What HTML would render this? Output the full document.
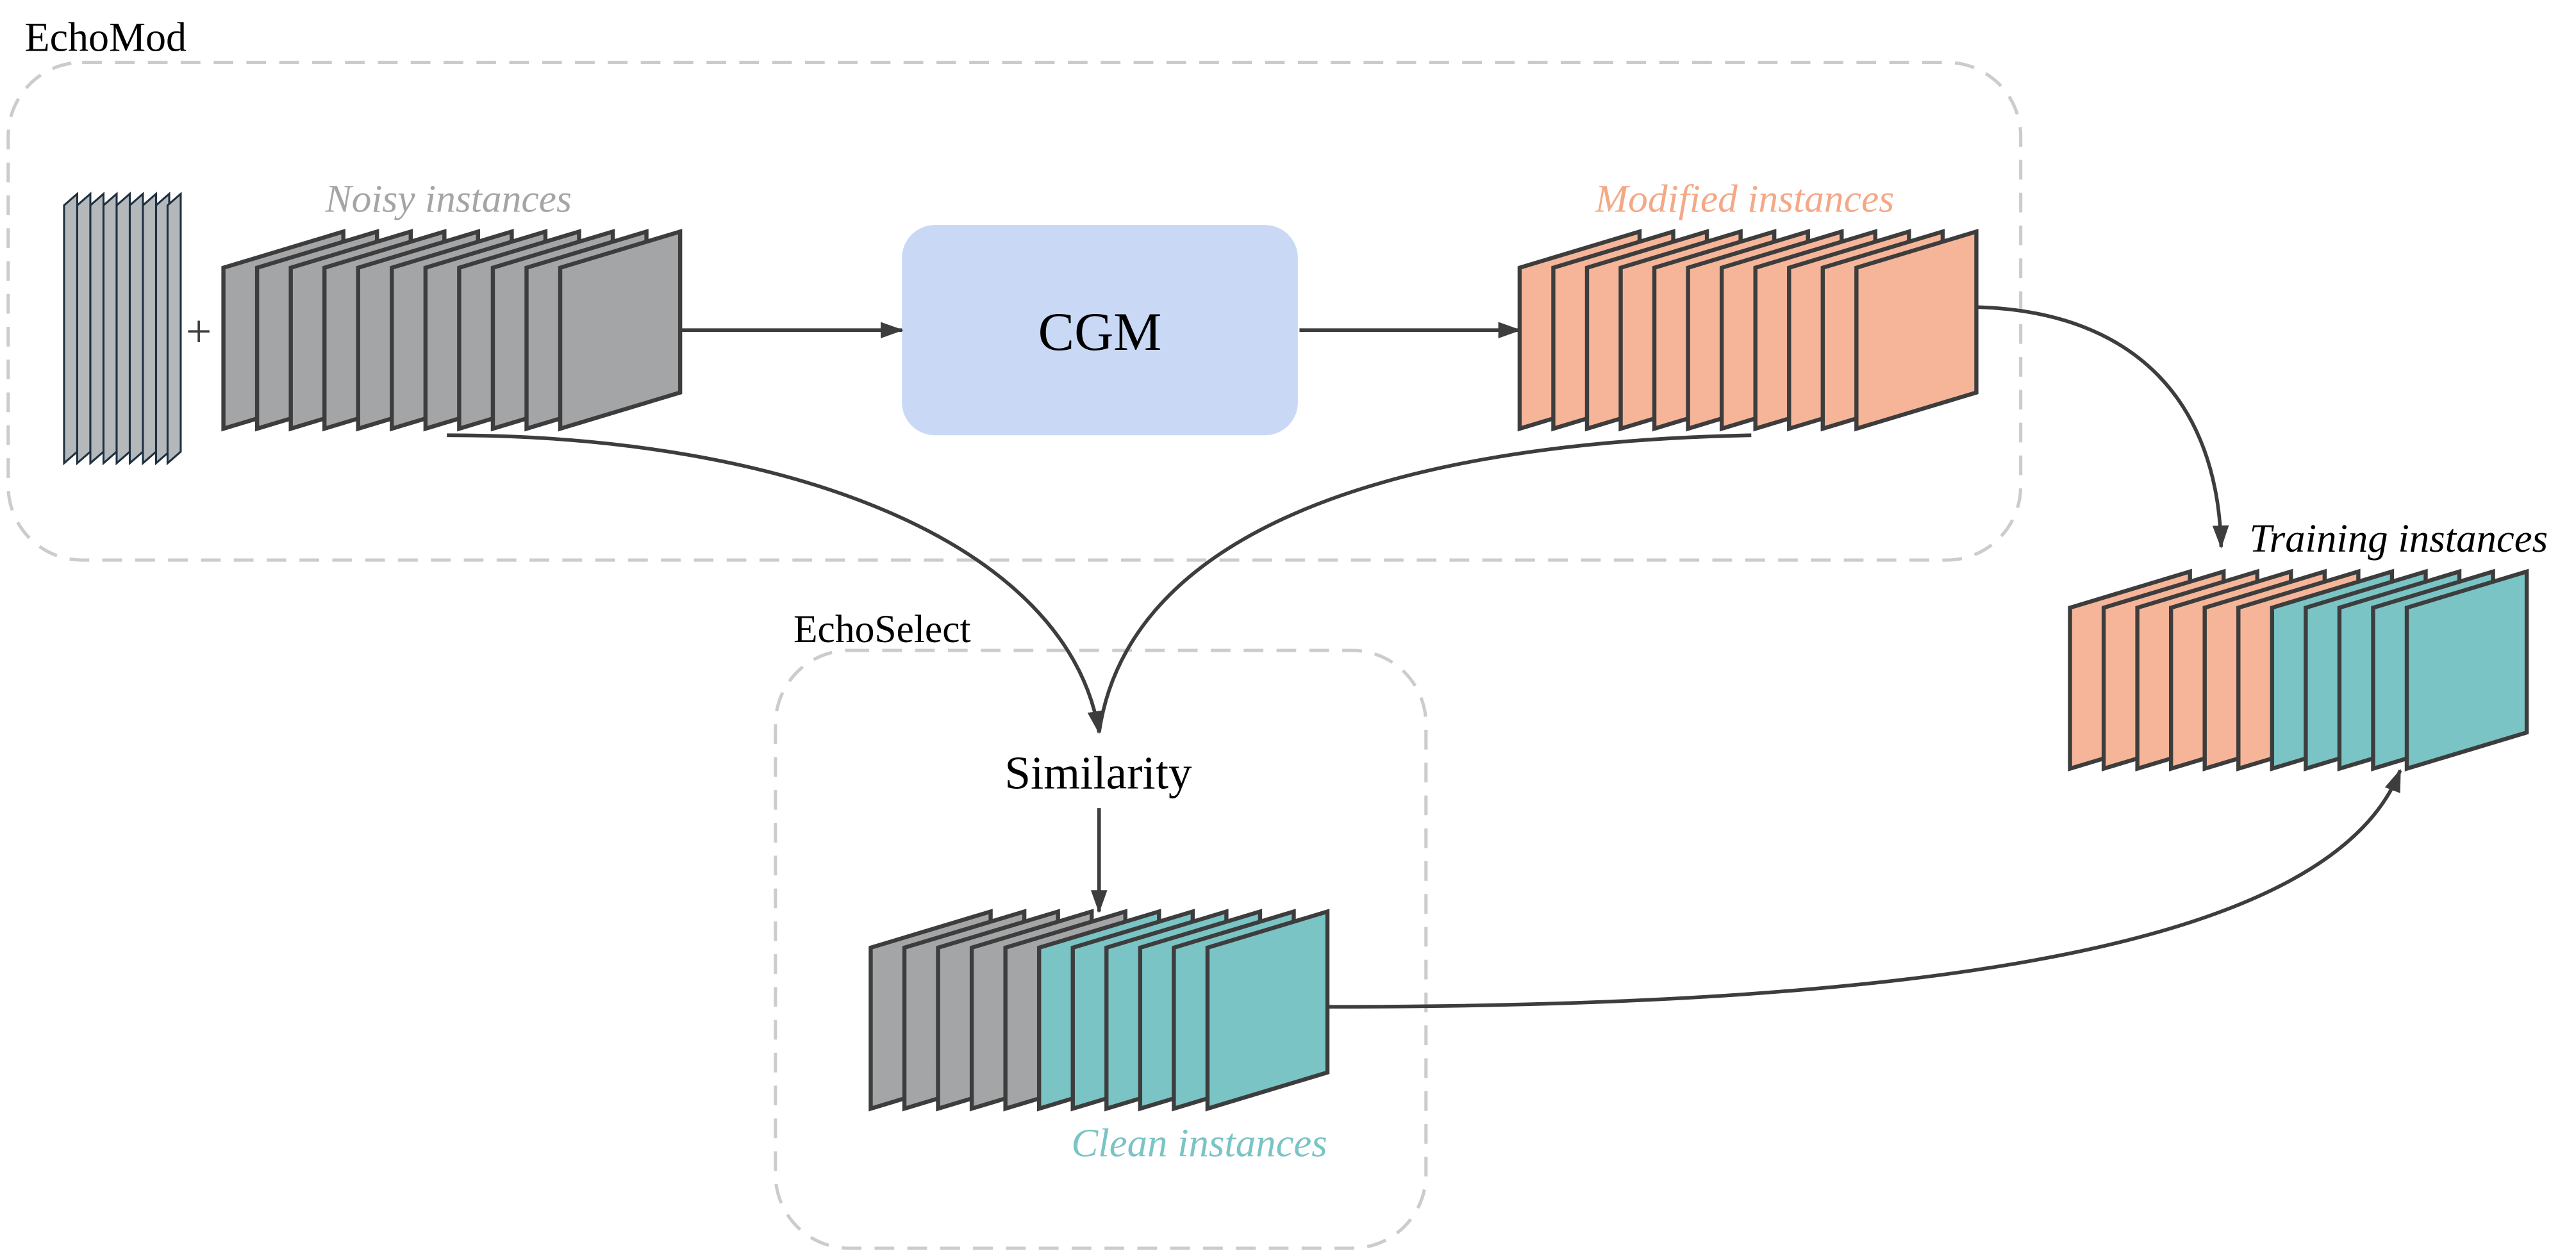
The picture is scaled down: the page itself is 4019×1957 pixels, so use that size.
<!DOCTYPE html>
<html><head><meta charset="utf-8"><style>
html,body{margin:0;padding:0;background:#fff;}
svg{display:block;}
text{font-family:"Liberation Serif",serif;}
</style></head><body>
<svg width="4019" height="1957" viewBox="0 0 1568 763.5" xmlns="http://www.w3.org/2000/svg">
<defs>
<marker id="ah" markerWidth="14" markerHeight="14" refX="13" refY="7" orient="auto" markerUnits="userSpaceOnUse">
<path d="M0,2 L14,7 L0,12 z" fill="#3d3d3d"/>
</marker>
</defs>
<rect x="5" y="38" width="1225" height="303" rx="45" fill="none" stroke="#cccccc" stroke-width="2" stroke-dasharray="12,8"/>
<text x="15" y="31" font-size="25" fill="#000">EchoMod</text>
<rect x="472" y="396" width="396" height="364" rx="45" fill="none" stroke="#cccccc" stroke-width="2" stroke-dasharray="12,8"/>
<text x="483" y="391" font-size="24" fill="#000">EchoSelect</text>

<g fill="#b4b8bb" stroke="#1e3040" stroke-width="1.2">
<polygon points="39,125 47,118 47,275 39,282"/>
<polygon points="47,125 55,118 55,275 47,282"/>
<polygon points="55,125 63,118 63,275 55,282"/>
<polygon points="63,125 71,118 71,275 63,282"/>
<polygon points="71,125 79,118 79,275 71,282"/>
<polygon points="79,125 87,118 87,275 79,282"/>
<polygon points="87,125 95,118 95,275 87,282"/>
<polygon points="95,125 103,118 103,275 95,282"/>
<polygon points="102,125 110,118 110,275 102,282"/>
</g>
<text x="121" y="211" font-size="28" fill="#3d3d3d" text-anchor="middle">+</text>

<g stroke="#3d3d3d" stroke-width="2.5" stroke-linejoin="miter">
<g fill="#a4a5a7">
<polygon points="136,163 209,141 209,239 136,261"/>
<polygon points="156.5,163 229.5,141 229.5,239 156.5,261"/>
<polygon points="177,163 250,141 250,239 177,261"/>
<polygon points="197.5,163 270.5,141 270.5,239 197.5,261"/>
<polygon points="218,163 291,141 291,239 218,261"/>
<polygon points="238.5,163 311.5,141 311.5,239 238.5,261"/>
<polygon points="259,163 332,141 332,239 259,261"/>
<polygon points="279.5,163 352.5,141 352.5,239 279.5,261"/>
<polygon points="300,163 373,141 373,239 300,261"/>
<polygon points="320.5,163 393.5,141 393.5,239 320.5,261"/>
<polygon points="341,163 414,141 414,239 341,261"/>
</g>
<g fill="#f6b598">
<polygon points="925,163 998,141 998,239 925,261"/>
<polygon points="945.5,163 1018.5,141 1018.5,239 945.5,261"/>
<polygon points="966,163 1039,141 1039,239 966,261"/>
<polygon points="986.5,163 1059.5,141 1059.5,239 986.5,261"/>
<polygon points="1007,163 1080,141 1080,239 1007,261"/>
<polygon points="1027.5,163 1100.5,141 1100.5,239 1027.5,261"/>
<polygon points="1048,163 1121,141 1121,239 1048,261"/>
<polygon points="1068.5,163 1141.5,141 1141.5,239 1068.5,261"/>
<polygon points="1089,163 1162,141 1162,239 1089,261"/>
<polygon points="1109.5,163 1182.5,141 1182.5,239 1109.5,261"/>
<polygon points="1130,163 1203,141 1203,239 1130,261"/>
</g>
<polygon fill="#a4a5a7" points="530,577 603,555 603,653 530,675"/>
<polygon fill="#a4a5a7" points="550.5,577 623.5,555 623.5,653 550.5,675"/>
<polygon fill="#a4a5a7" points="571,577 644,555 644,653 571,675"/>
<polygon fill="#a4a5a7" points="591.5,577 664.5,555 664.5,653 591.5,675"/>
<polygon fill="#a4a5a7" points="612,577 685,555 685,653 612,675"/>
<polygon fill="#7ac4c5" points="632.5,577 705.5,555 705.5,653 632.5,675"/>
<polygon fill="#7ac4c5" points="653,577 726,555 726,653 653,675"/>
<polygon fill="#7ac4c5" points="673.5,577 746.5,555 746.5,653 673.5,675"/>
<polygon fill="#7ac4c5" points="694,577 767,555 767,653 694,675"/>
<polygon fill="#7ac4c5" points="714.5,577 787.5,555 787.5,653 714.5,675"/>
<polygon fill="#7ac4c5" points="735,577 808,555 808,653 735,675"/>
<polygon fill="#f6b598" points="1260,370 1333,348 1333,446 1260,468"/>
<polygon fill="#f6b598" points="1280.5,370 1353.5,348 1353.5,446 1280.5,468"/>
<polygon fill="#f6b598" points="1301,370 1374,348 1374,446 1301,468"/>
<polygon fill="#f6b598" points="1321.5,370 1394.5,348 1394.5,446 1321.5,468"/>
<polygon fill="#f6b598" points="1342,370 1415,348 1415,446 1342,468"/>
<polygon fill="#f6b598" points="1362.5,370 1435.5,348 1435.5,446 1362.5,468"/>
<polygon fill="#7ac4c5" points="1383,370 1456,348 1456,446 1383,468"/>
<polygon fill="#7ac4c5" points="1403.5,370 1476.5,348 1476.5,446 1403.5,468"/>
<polygon fill="#7ac4c5" points="1424,370 1497,348 1497,446 1424,468"/>
<polygon fill="#7ac4c5" points="1444.5,370 1517.5,348 1517.5,446 1444.5,468"/>
<polygon fill="#7ac4c5" points="1465,370 1538,348 1538,446 1465,468"/>
</g>

<rect x="549" y="137" width="241" height="128" rx="20" fill="#c9d9f5"/>
<text x="669.5" y="213" font-size="33" text-anchor="middle" fill="#000">CGM</text>

<g fill="none" stroke="#3d3d3d" stroke-width="2.2">
<path d="M415,201 L549,201" marker-end="url(#ah)"/>
<path d="M791,201 L925,201" marker-end="url(#ah)"/>
<path d="M1204,187 C1300,190 1350,245 1352,333" marker-end="url(#ah)"/>
<path d="M272,265 C480,265 650,330 669,446" marker-end="url(#ah)"/>
<path d="M1066,265 C820,270 685,335 669,446"/>
<path d="M669,492 L669,555" marker-end="url(#ah)"/>
<path d="M808,613 C1180,613 1420,575 1461,469" marker-end="url(#ah)"/>
</g>

<text x="273" y="129" font-size="24" font-style="italic" fill="#a4a5a7" text-anchor="middle">Noisy instances</text>
<text x="1062" y="129" font-size="24" font-style="italic" fill="#f4a886" text-anchor="middle">Modified instances</text>
<text x="1460" y="336" font-size="24.5" font-style="italic" fill="#000" text-anchor="middle">Training instances</text>
<text x="668.5" y="480" font-size="28.5" fill="#000" text-anchor="middle">Similarity</text>
<text x="730" y="704" font-size="24.5" font-style="italic" fill="#7ac4c5" text-anchor="middle">Clean instances</text>
</svg>
</body></html>
